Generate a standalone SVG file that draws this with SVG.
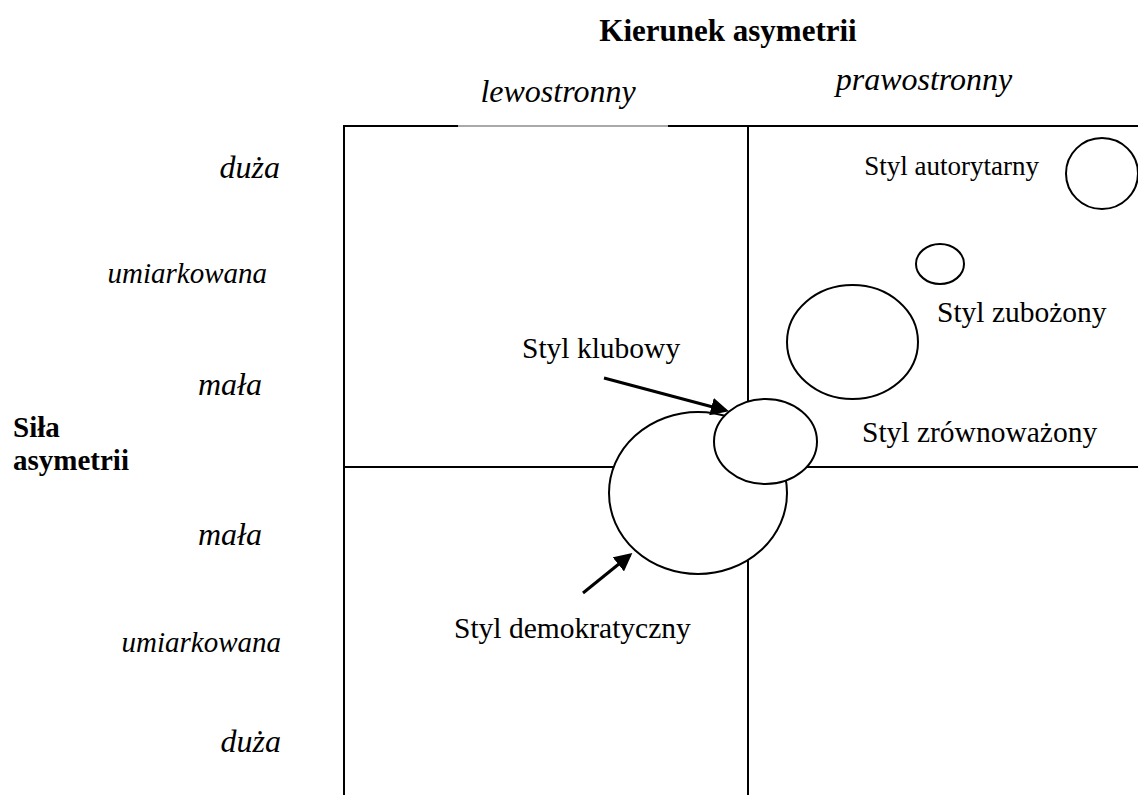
<svg xmlns="http://www.w3.org/2000/svg" width="1138" height="795" viewBox="0 0 1138 795">
<defs>
<style>
.t{font-family:"Liberation Serif","Times New Roman",serif;font-size:29.5px;fill:#000}
.i{font-style:italic;font-size:32px}
.u{font-size:29px}
.b{font-weight:bold;font-size:29px}
.ttl{font-size:31px}
.ln{stroke:#000;stroke-width:2;fill:none}
.c{stroke:#000;stroke-width:2;fill:#fff}
.ar{stroke:#000;stroke-width:3;fill:none}
</style>
<marker id="ah" markerWidth="6" markerHeight="6" refX="5" refY="3" orient="auto" markerUnits="strokeWidth">
<path d="M0,0 L6,3 L0,6 Z" fill="#000"/>
</marker>
</defs>
<rect width="1138" height="795" fill="#fff"/>
<g id="grid">
<line class="ln" x1="344" y1="126" x2="458" y2="126"/>
<line x1="458" y1="126" x2="668" y2="126" stroke="#555" stroke-width="1"/>
<line class="ln" x1="668" y1="126" x2="1138" y2="126"/>
<line class="ln" x1="344" y1="125" x2="344" y2="795"/>
<line class="ln" x1="748" y1="126" x2="748" y2="795"/>
<line class="ln" x1="344" y1="467" x2="1138" y2="467"/>
</g>
<g id="labels">
<text class="t b ttl" x="728" y="41" text-anchor="middle">Kierunek asymetrii</text>
<text class="t i" x="558" y="102" text-anchor="middle">lewostronny</text>
<text class="t i" x="924" y="90" text-anchor="middle">prawostronny</text>
<text class="t i" x="280" y="178" text-anchor="end">duża</text>
<text class="t i u" x="267" y="283" text-anchor="end">umiarkowana</text>
<text class="t i" x="262" y="395" text-anchor="end">mała</text>
<text class="t b" x="13" y="437">Siła</text>
<text class="t b" x="13" y="470">asymetrii</text>
<text class="t i" x="262" y="545" text-anchor="end">mała</text>
<text class="t i u" x="281" y="652" text-anchor="end">umiarkowana</text>
<text class="t i" x="281" y="752" text-anchor="end">duża</text>
</g>
<g id="autorytarny">
<ellipse class="c" cx="1102" cy="173.5" rx="36" ry="35.5"/>
<text class="t" x="1039" y="175" text-anchor="end" style="font-size:27px">Styl autorytarny</text>
</g>
<g id="zubozony">
<ellipse class="c" cx="940" cy="264" rx="24" ry="20"/>
<text class="t" x="937" y="322">Styl zubożony</text>
</g>
<g id="zrownowazony">
<ellipse class="c" cx="852.5" cy="342" rx="65.5" ry="57"/>
<text class="t" x="862" y="442">Styl zrównoważony</text>
</g>
<g id="demokratyczny">
<ellipse class="c" cx="698" cy="493" rx="89" ry="81"/>
<text class="t" x="454" y="638">Styl demokratyczny</text>
</g>
<g id="klubowy">
<ellipse class="c" cx="765.5" cy="441.5" rx="51.5" ry="42.5"/>
<text class="t" x="522" y="358">Styl klubowy</text>
</g>
<g id="connectors">
<line class="ar" x1="604" y1="378" x2="726" y2="410.5" marker-end="url(#ah)"/>
<line class="ar" x1="583" y1="593" x2="630" y2="555" marker-end="url(#ah)"/>
</g>
</svg>
